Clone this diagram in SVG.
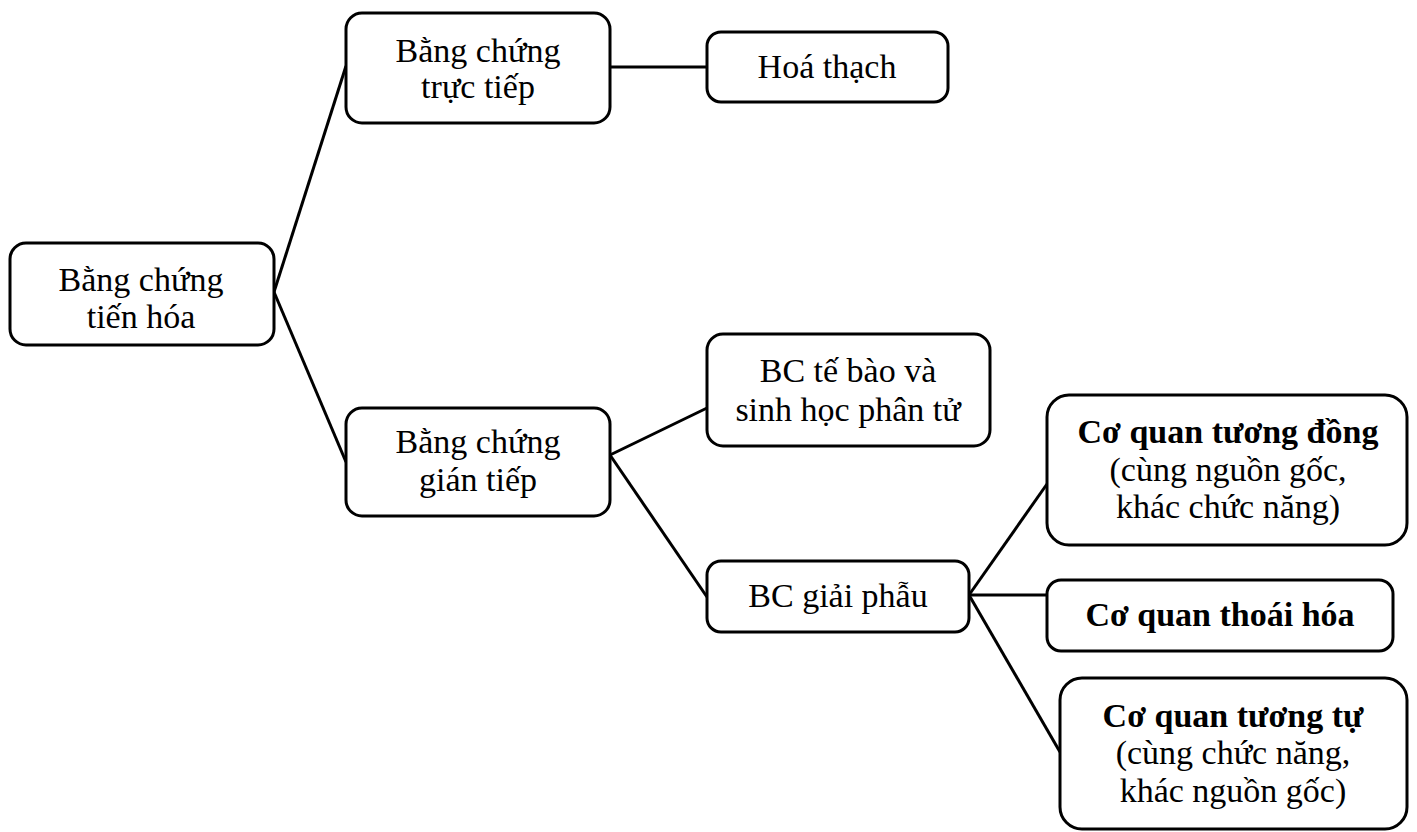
<svg xmlns="http://www.w3.org/2000/svg" width="1417" height="832" viewBox="0 0 1417 832">
<style>
.box{fill:#fff;stroke:#000;stroke-width:3}
.t{font-family:"Liberation Serif","Times New Roman",serif;font-size:34px;fill:#000;text-anchor:middle}
.b{font-weight:bold}
.c{stroke:#000;stroke-width:3;fill:none}
</style>
<rect width="1417" height="832" fill="#fff"/>
<g id="connectors">
<line class="c" x1="274" y1="292" x2="346" y2="66"/>
<line class="c" x1="274" y1="292" x2="346" y2="462"/>
<line class="c" x1="610" y1="67" x2="707" y2="67"/>
<line class="c" x1="610" y1="455" x2="707" y2="408"/>
<line class="c" x1="610" y1="455" x2="707" y2="597"/>
<line class="c" x1="969" y1="595" x2="1047" y2="484"/>
<line class="c" x1="969" y1="595" x2="1047" y2="595"/>
<line class="c" x1="969" y1="595" x2="1060" y2="752"/>
</g>
<g id="root">
<rect class="box" x="10" y="243" width="264" height="102" rx="16"/>
<text class="t" x="141" y="291">Bằng chứng</text>
<text class="t" x="141" y="328">tiến hóa</text>
</g>
<g id="truc-tiep">
<rect class="box" x="346" y="13" width="264" height="110" rx="16"/>
<text class="t" x="478" y="62">Bằng chứng</text>
<text class="t" x="478" y="98">trực tiếp</text>
</g>
<g id="hoa-thach">
<rect class="box" x="707" y="32" width="241" height="70" rx="14"/>
<text class="t" x="827" y="78">Hoá thạch</text>
</g>
<g id="gian-tiep">
<rect class="box" x="346" y="408" width="264" height="108" rx="16"/>
<text class="t" x="478" y="453">Bằng chứng</text>
<text class="t" x="478" y="491">gián tiếp</text>
</g>
<g id="te-bao">
<rect class="box" x="707" y="334" width="283" height="112" rx="16"/>
<text class="t" x="848" y="382">BC tế bào và</text>
<text class="t" x="848" y="421">sinh học phân tử</text>
</g>
<g id="giai-phau">
<rect class="box" x="707" y="561" width="262" height="71" rx="14"/>
<text class="t" x="838" y="607">BC giải phẫu</text>
</g>
<g id="tuong-dong">
<rect class="box" x="1047" y="395" width="360" height="150" rx="22"/>
<text class="t b" x="1228" y="443">Cơ quan tương đồng</text>
<text class="t" x="1228" y="481">(cùng nguồn gốc,</text>
<text class="t" x="1228" y="518">khác chức năng)</text>
</g>
<g id="thoai-hoa">
<rect class="box" x="1047" y="580" width="346" height="71" rx="14"/>
<text class="t b" x="1220" y="626">Cơ quan thoái hóa</text>
</g>
<g id="tuong-tu">
<rect class="box" x="1060" y="678" width="347" height="151" rx="22"/>
<text class="t b" x="1233" y="727">Cơ quan tương tự</text>
<text class="t" x="1233" y="764">(cùng chức năng,</text>
<text class="t" x="1233" y="802">khác nguồn gốc)</text>
</g>
</svg>
